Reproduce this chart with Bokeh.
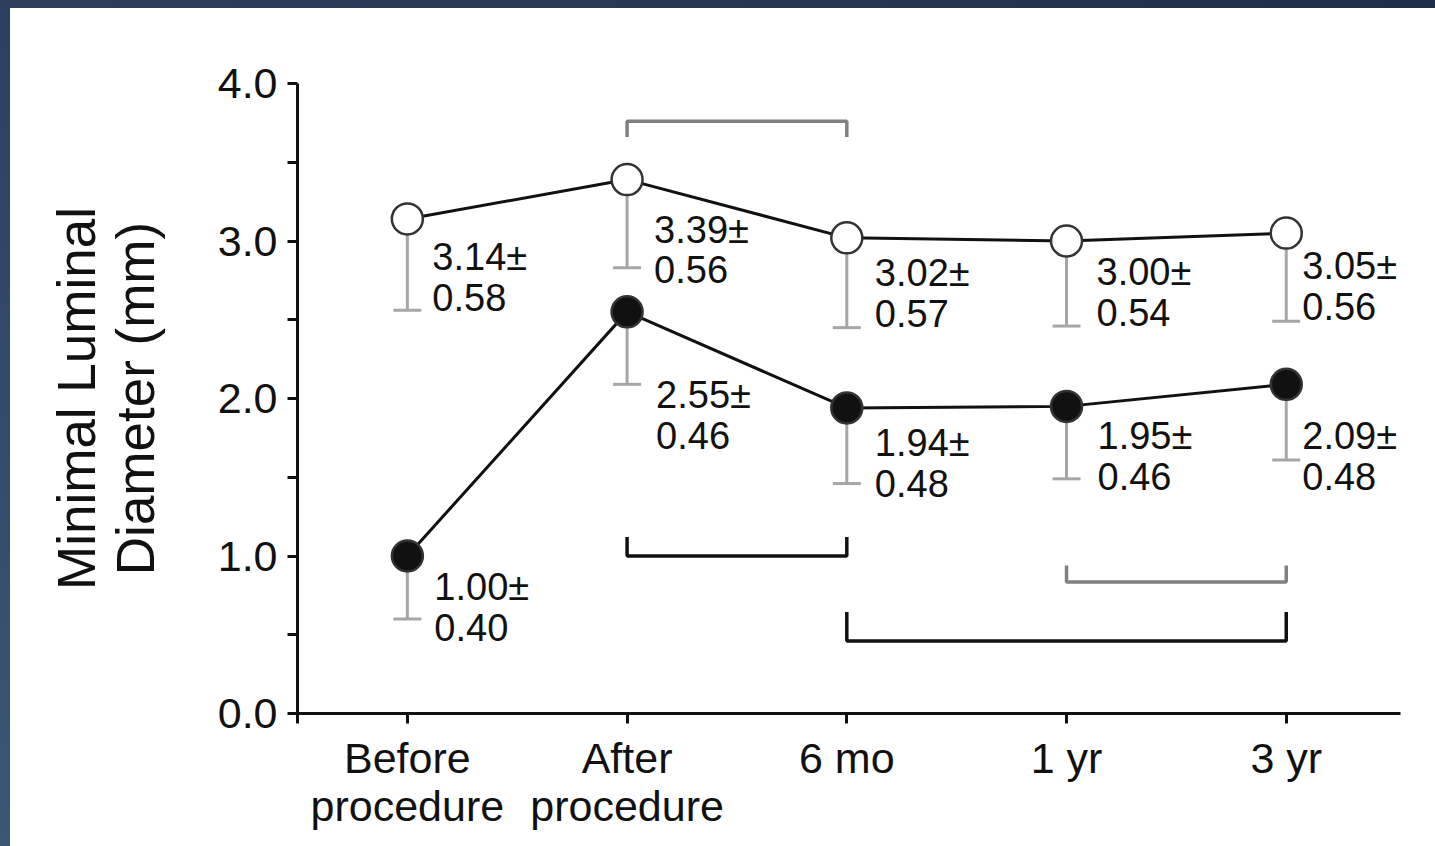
from bokeh.plotting import figure
from bokeh.models import (ColumnDataSource, Range1d, FixedTicker, PrintfTickFormatter,
                          Spacer)
from bokeh.layouts import column, row
from bokeh.core.properties import value
from bokeh.embed import file_html
from bokeh.resources import INLINE

# Time points
categories = ["Before\nprocedure", "After\nprocedure", "6 mo", "1 yr", "3 yr"]

# Minimal luminal diameter, mean and SD (mm)
open_mean = [3.14, 3.39, 3.02, 3.00, 3.05]
open_sd = [0.58, 0.56, 0.57, 0.54, 0.56]
filled_mean = [1.00, 2.55, 1.94, 1.95, 2.09]
filled_sd = [0.40, 0.46, 0.48, 0.46, 0.48]

y_ticks = [0, 1, 2, 3, 4]
y_minor = [0.5, 1.5, 2.5, 3.5]

# Significance brackets: (from index, to index, bar level, end level, colour)
brackets = [
    (1, 2, 3.76, 3.66, "#808080"),
    (1, 2, 1.00, 1.12, "#111111"),
    (3, 4, 0.835, 0.94, "#808080"),
    (2, 4, 0.46, 0.645, "#111111"),
]

# label placement in screen pixels, relative to each point
open_dx = [25, 27, 28, 30, 16]
open_dy = [17, 29, 14, 10, 12]
filled_dx = [27, 29, 28, 31, 16]
filled_dy = [10, 62, 14, 9, 31]

FONT = "Liberation Sans"
INK = "#111111"
BAR = "#a6a6a6"

xs = list(range(len(categories)))

p = figure(width=1425, height=838, x_range=Range1d(-0.5, 4.52), y_range=Range1d(0, 4.0),
           output_backend="svg", toolbar_location=None,
           min_border_left=287, min_border_right=35, min_border_top=75, min_border_bottom=133,
           background_fill_color="white", border_fill_color="white", outline_line_color=None)
p.grid.visible = False

# axes
p.yaxis.ticker = FixedTicker(ticks=y_ticks, minor_ticks=y_minor)
p.yaxis.formatter = PrintfTickFormatter(format="%.1f")
p.xaxis.ticker = FixedTicker(ticks=[-0.5] + xs)
p.xaxis.major_label_overrides = {-0.5: ""} | {i: c for i, c in zip(xs, categories)}
for ax in (p.xaxis[0], p.yaxis[0]):
    ax.axis_line_color = INK
    ax.axis_line_width = 3
    ax.major_tick_line_color = INK
    ax.major_tick_line_width = 3
    ax.minor_tick_line_color = INK
    ax.minor_tick_line_width = 3
    ax.major_tick_in = 0
    ax.major_tick_out = 10
    ax.minor_tick_in = 0
    ax.minor_tick_out = 10
    ax.major_label_text_font = FONT
    ax.major_label_text_font_size = "43px"
    ax.major_label_text_color = INK
p.xaxis.minor_tick_line_color = None
p.xaxis.major_label_standoff = 10
p.xaxis.major_label_text_line_height = 1.0
p.yaxis.major_label_standoff = 10
p.yaxis.axis_label = "Minimal Luminal\nDiameter (mm)"
p.yaxis.axis_label_text_font = FONT
p.yaxis.axis_label_text_font_size = "53px"
p.yaxis.axis_label_text_font_style = "normal"
p.yaxis.axis_label_text_color = INK
p.yaxis.axis_label_standoff = 50
p.yaxis.axis_label_text_line_height = 1.0

# brackets
for a, b, lvl, end, col in brackets:
    p.line([a, a, b, b], [end, lvl, lvl, end], line_color=col, line_width=3.5)


def series(mean, sd, dx, dy, fill):
    lo = [m - s for m, s in zip(mean, sd)]
    src = ColumnDataSource(dict(
        x=xs, y=mean, lo=lo, dx=dx, dy=dy,
        label=[f"{m:.2f}\u00b1\n{s:.2f}" for m, s in zip(mean, sd)]))
    p.segment(x0="x", y0="lo", x1="x", y1="y", source=src, line_color=BAR, line_width=3)
    p.scatter(x="x", y="lo", source=src, marker="dash", size=28, line_color=BAR, line_width=3)
    p.line(x="x", y="y", source=src, line_color=INK, line_width=3)
    p.scatter(x="x", y="y", source=src, marker="circle", size=31,
              fill_color=fill, line_color="#333333", line_width=2.5)
    p.text(x="x", y="y", text="label", source=src, x_offset="dx", y_offset="dy",
           text_font=value(FONT), text_font_size="38px", text_color=INK,
           text_align="left", text_baseline="top", text_line_height=0.97)


series(open_mean, open_sd, open_dx, open_dy, "white")
series(filled_mean, filled_sd, filled_dx, filled_dy, INK)

# dark frame along the top and left edges of the page
top_band = Spacer(width=1435, height=8,
                  styles={"background": "linear-gradient(to right, #2d3f5c, #1e2e4a)"})
left_band = Spacer(width=10, height=838,
                   styles={"background": "linear-gradient(to bottom, #2d405e, #3b5675)"})
page = column(top_band, row(left_band, p, spacing=0), spacing=0)

open("out.html", "w").write(file_html(page, INLINE))
